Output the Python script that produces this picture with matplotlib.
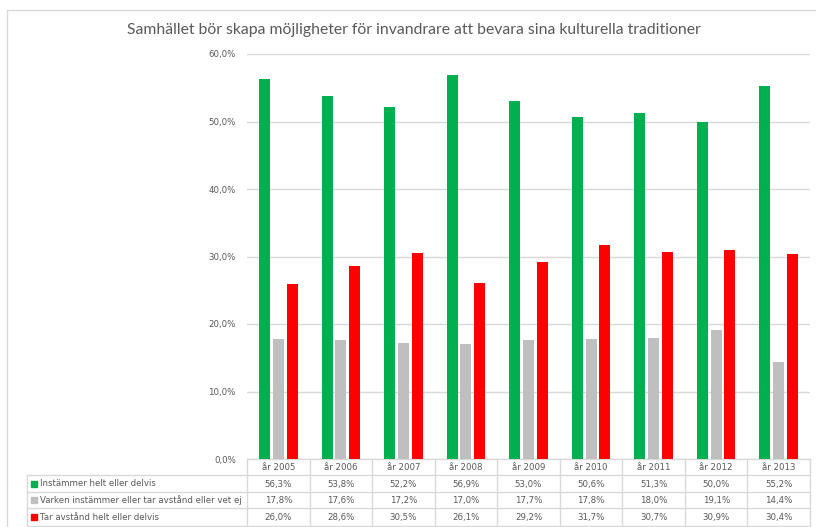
import matplotlib
matplotlib.use('agg')
import matplotlib.pyplot as plt
from matplotlib.patches import Rectangle
from matplotlib.ticker import FuncFormatter
import numpy as np

# chart data
title = "Samhället bör skapa möjligheter för invandrare att bevara sina kulturella traditioner"
years = ["år 2005", "år 2006", "år 2007", "år 2008", "år 2009",
         "år 2010", "år 2011", "år 2012", "år 2013"]
series_names = ["Instämmer helt eller delvis",
                "Varken instämmer eller tar avstånd eller vet ej",
                "Tar avstånd helt eller delvis"]
instammer = [56.3, 53.8, 52.2, 56.9, 53.0, 50.6, 51.3, 50.0, 55.2]
varken = [17.8, 17.6, 17.2, 17.0, 17.7, 17.8, 18.0, 19.1, 14.4]
avstand = [26.0, 28.6, 30.5, 26.1, 29.2, 31.7, 30.7, 30.9, 30.4]
colors = ["#00B050", "#BFBFBF", "#FF0000"]

series = [instammer, varken, avstand]
text_col = "#595959"
line_col = "#D9D9D9"
small = 6.2


def pct(v):
    return f"{v:.1f}%".replace(".", ",")


W, H = 816, 527
fig = plt.figure(figsize=(W / 100, H / 100), dpi=100)

# pixel-space overlay for frame, title and data table
bg = fig.add_axes([0, 0, 1, 1])
bg.set_xlim(0, W)
bg.set_ylim(H, 0)
bg.axis('off')

ax_l, ax_r, ax_t, ax_b = 247, 810, 54, 459
ax = fig.add_axes([ax_l / W, (H - ax_b) / H, (ax_r - ax_l) / W, (ax_b - ax_t) / H])
ax.patch.set_alpha(0)

x = np.arange(len(years))
step = 0.22
width = 0.176
for i, vals in enumerate(series):
    ax.bar(x + (i - 1) * step, vals, width, color=colors[i], zorder=3)

ax.set_xlim(-0.5, len(years) - 0.5)
ax.set_ylim(0, 60)
ax.set_yticks(np.arange(0, 61, 10))
ax.yaxis.set_major_formatter(FuncFormatter(lambda v, p: pct(v)))
ax.grid(axis='y', color=line_col, linewidth=1, zorder=0)
ax.set_xticks([])
ax.tick_params(axis='y', length=0, pad=8, labelsize=small, labelcolor=text_col)
for s in ax.spines.values():
    s.set_visible(False)

# chart frame
bg.add_patch(Rectangle((7, 10), 900, 600, fill=False, edgecolor=line_col,
                       linewidth=1, clip_on=False))

bg.text(414, 30, title, ha='center', va='center', fontsize=11.3,
        family='Lato', color=text_col)


# data table
def xpix(xd):
    d = ax.transData.transform((xd, 0))
    return bg.transData.inverted().transform(d)[0]


edges = [xpix(v - 0.5) for v in range(len(years) + 1)]
rows = [459, 475, 492, 508, 526]
left = 27

bg.plot([edges[0], edges[-1]], [rows[0], rows[0]], color=line_col, lw=1)
for yy in rows[1:]:
    bg.plot([left, edges[-1]], [yy, yy], color=line_col, lw=1)
for e in edges:
    bg.plot([e, e], [rows[0], rows[-1]], color=line_col, lw=1)
bg.plot([left, left], [rows[1], rows[-1]], color=line_col, lw=1)

for j, yr in enumerate(years):
    cx = (edges[j] + edges[j + 1]) / 2
    bg.text(cx, (rows[0] + rows[1]) / 2 + 0.5, yr, ha='center', va='center',
            fontsize=small, color=text_col)
    for i, vals in enumerate(series):
        bg.text(cx, (rows[i + 1] + rows[i + 2]) / 2 + 0.5, pct(vals[j]),
                ha='center', va='center', fontsize=small, color=text_col)

for i, name in enumerate(series_names):
    cy = (rows[i + 1] + rows[i + 2]) / 2
    bg.add_patch(Rectangle((31, cy - 3), 6, 6, color=colors[i]))
    bg.text(40, cy + 0.5, name, ha='left', va='center', fontsize=small, color=text_col)

fig.savefig("out.png", dpi=100)
